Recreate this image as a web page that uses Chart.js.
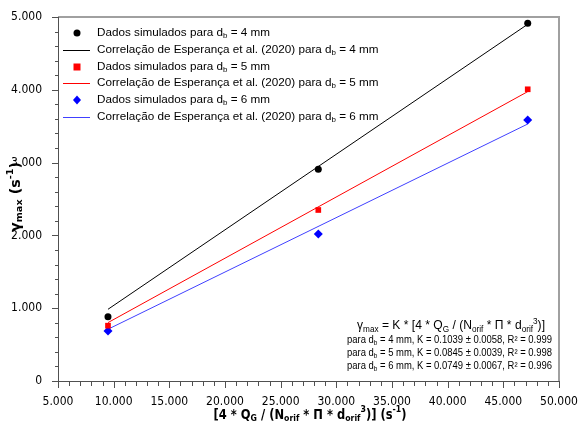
<!DOCTYPE html>
<html>
<head>
<meta charset="utf-8">
<script src="https://cdn.jsdelivr.net/npm/chart.js@4.4.1/dist/chart.umd.min.js"></script>
<style>
  body { margin: 0; background: #fff; }
  #wrap { width: 579px; height: 429px; }
</style>
</head>
<body>
<div id="wrap"><canvas id="chart" width="579" height="429"></canvas></div>
<script>
// values
const xSim = [9490, 28380, 47190];
const sim4 = [883, 2908, 4913];
const sim5 = [760, 2349, 4007];
const sim6 = [687, 2019, 3585];
const xFit = [9490, 47190];
const fit4 = [985, 4900];
const fit5 = [802, 3975];
const fit6 = [711, 3530];

const legendRows = [
    { kind: 'point', style: 'circle', color: '#000000', text: [['Dados simulados para d'], ['b', 'sub'], [' = 4 mm']] },
    { kind: 'line', color: '#000000', text: [['Correlação de Esperança et al. (2020) para d'], ['b', 'sub'], [' = 4 mm']] },
    { kind: 'point', style: 'rect', color: '#ff0000', text: [['Dados simulados para d'], ['b', 'sub'], [' = 5 mm']] },
    { kind: 'line', color: '#ff0000', text: [['Correlação de Esperança et al. (2020) para d'], ['b', 'sub'], [' = 5 mm']] },
    { kind: 'point', style: 'rectRot', color: '#0000ff', text: [['Dados simulados para d'], ['b', 'sub'], [' = 6 mm']] },
    { kind: 'line', color: '#4040ff', text: [['Correlação de Esperança et al. (2020) para d'], ['b', 'sub'], [' = 6 mm']] }
];

const fitLines = [
    [['para d'], ['b', 'sub'], [' = 4 mm, K = 0.1039 ± 0.0058, R² = 0.999']],
    [['para d'], ['b', 'sub'], [' = 5 mm, K = 0.0845 ± 0.0039, R² = 0.998']],
    [['para d'], ['b', 'sub'], [' = 6 mm, K = 0.0749 ± 0.0067, R² = 0.996']]
];

function toPairs(xs, ys) {
    return xs.map((x, i) => ({ x: x, y: ys[i] }));
}

function fmt(v) {
    if (v === 0) return '0';
    const th = Math.floor(v / 1000);
    const rest = String(Math.round(v % 1000)).padStart(3, '0');
    return th + '.' + rest;
}

// draws text pieces with sub/superscripts, returns total width
function drawRich(ctx, parts, x, y, size, family, weight, measureOnly) {
    let cx = x;
    parts.forEach(p => {
        const mode = p[1] || 'n';
        const fs = mode === 'n' ? size : size * 0.68;
        const dy = mode === 'sub' ? size * 0.28 : (mode === 'sup' ? -size * 0.38 : 0);
        ctx.font = weight + ' ' + fs + 'px ' + family;
        if (!measureOnly) ctx.fillText(p[0], cx, y + dy);
        cx += ctx.measureText(p[0]).width;
    });
    return cx - x;
}

// same, squeezed or stretched to a given width and centred on cx
function drawRichFit(ctx, parts, cx, y, size, family, weight, width) {
    const w = drawRich(ctx, parts, 0, 0, size, family, weight, true);
    ctx.save();
    ctx.translate(cx - width / 2, y);
    ctx.scale(width / w, 1);
    drawRich(ctx, parts, 0, 0, size, family, weight);
    ctx.restore();
}

const extras = {
    id: 'extras',
    afterDraw(chart) {
        const ctx = chart.ctx;
        const a = chart.chartArea;
        const xs = chart.scales.x, ys = chart.scales.y;
        ctx.save();
        ctx.globalAlpha = 1;

        // frame: grey top and right, dark axes
        ctx.fillStyle = '#a0a0a0';
        ctx.fillRect(a.left, a.top - 1, a.right - a.left + 1, 2);
        ctx.fillRect(a.right - 1, a.top - 1, 2, a.bottom - a.top + 1);
        ctx.fillStyle = '#505050';
        ctx.fillRect(a.left, a.top, 1, a.bottom - a.top + 1);
        ctx.fillRect(a.left, a.bottom, a.right - a.left, 1);

        // ticks, major and minor
        for (let v = 0; v <= 5000; v += 200) {
            const py = Math.round(ys.getPixelForValue(v));
            const len = v % 1000 === 0 ? 6 : 3;
            ctx.fillRect(a.left - len, py, len, 1);
        }
        for (let v = 5000; v <= 50000; v += 1000) {
            const px = Math.round(xs.getPixelForValue(v));
            const len = v % 5000 === 0 ? 6 : 4;
            ctx.fillRect(px, a.bottom, 1, len + 1);
        }

        ctx.textBaseline = 'middle';
        ctx.textAlign = 'left';
        const sans = '"Liberation Sans", Arial, sans-serif';

        // legend inside the plot
        const rowY = [33, 50, 67, 83, 100, 117];
        legendRows.forEach((r, i) => {
            const y = rowY[i];
            ctx.fillStyle = r.color;
            if (r.kind === 'line') {
                ctx.fillRect(63, y, 27, 1);
            } else {
                ctx.beginPath();
                if (r.style === 'circle') ctx.arc(77, y, 3.5, 0, Math.PI * 2);
                else if (r.style === 'rect') ctx.rect(73.5, y - 3.5, 7, 7);
                else { ctx.moveTo(77, y - 4.5); ctx.lineTo(81, y); ctx.lineTo(77, y + 4.5); ctx.lineTo(73, y); ctx.closePath(); }
                ctx.fill();
            }
            ctx.fillStyle = '#000';
            drawRich(ctx, r.text, 97, y, 11.7, sans, 'normal');
        });

        // fit annotation
        const head = [['γ'], ['max', 'sub'], [' = K * [4 * Q'], ['G', 'sub'], [' / (N'], ['orif', 'sub'], [' * Π * d'], ['orif', 'sub'], ['3', 'sup'], [')]']];
        drawRichFit(ctx, head, 451, 326, 12, sans, 'normal', 188);
        [340, 353, 366].forEach((y, i) => {
            drawRichFit(ctx, fitLines[i], 449.5, y, 10, sans, 'normal', 205);
        });

        // axis titles
        const fam = '"DejaVu Sans", Verdana, sans-serif';
        const xt = [['[4 * Q'], ['G', 'sub'], [' / (N'], ['orif', 'sub'], [' * Π * d'], ['orif', 'sub'], ['3', 'sup'], [')] (s'], ['-1', 'sup'], [')']];
        drawRichFit(ctx, xt, 310, 415, 13.5, fam, 'bold', 193);

        const yt = [['γ'], ['max', 'sub'], [' (s'], ['-1', 'sup'], [')']];
        ctx.save();
        ctx.translate(16, 197);
        ctx.rotate(-Math.PI / 2);
        drawRichFit(ctx, yt, 0, 0, 13.5, fam, 'bold', 70);
        ctx.restore();
        ctx.restore();
    }
};

const tickFont = { family: '"DejaVu Sans Condensed", "DejaVu Sans", Verdana, sans-serif', size: 12 };

new Chart(document.getElementById('chart'), {
    type: 'scatter',
    data: {
        datasets: [
            { label: 'Correlação 4 mm', type: 'line', data: toPairs(xFit, fit4), borderColor: '#000000', borderWidth: 1, pointRadius: 0, order: 3 },
            { label: 'Correlação 5 mm', type: 'line', data: toPairs(xFit, fit5), borderColor: '#ff0000', borderWidth: 1, pointRadius: 0, order: 3 },
            { label: 'Correlação 6 mm', type: 'line', data: toPairs(xFit, fit6), borderColor: '#4040ff', borderWidth: 1, pointRadius: 0, order: 3 },
            { label: 'Dados 4 mm', data: toPairs(xSim, sim4), pointStyle: 'circle', pointRadius: 3.5, backgroundColor: '#000000', borderWidth: 0, order: 1 },
            { label: 'Dados 5 mm', data: toPairs(xSim, sim5), pointStyle: 'rect', pointRadius: 4, backgroundColor: '#ff0000', borderWidth: 0, order: 1 },
            { label: 'Dados 6 mm', data: toPairs(xSim, sim6), pointStyle: 'rectRot', pointRadius: 4.5, backgroundColor: '#0000ff', borderWidth: 0, order: 1 }
        ]
    },
    options: {
        responsive: false,
        animation: false,
        layout: { padding: { top: 17, right: 20, left: 0, bottom: 0 } },
        plugins: { legend: { display: false }, tooltip: { enabled: false } },
        scales: {
            x: {
                type: 'linear', min: 5000, max: 50000,
                grid: { display: false }, border: { display: false },
                ticks: { stepSize: 5000, color: '#000', font: tickFont, padding: 6, maxRotation: 0, callback: v => fmt(v) },
                afterFit: s => { s.height = 48; s.paddingLeft = 0; s.paddingRight = 0; }
            },
            y: {
                min: 0, max: 5000,
                grid: { display: false }, border: { display: false },
                ticks: { stepSize: 1000, color: '#000', font: tickFont, padding: 8, callback: v => fmt(v) },
                afterFit: s => { s.width = 58; s.paddingTop = 0; s.paddingBottom = 0; }
            }
        }
    },
    plugins: [extras]
});
</script>
</body>
</html>
